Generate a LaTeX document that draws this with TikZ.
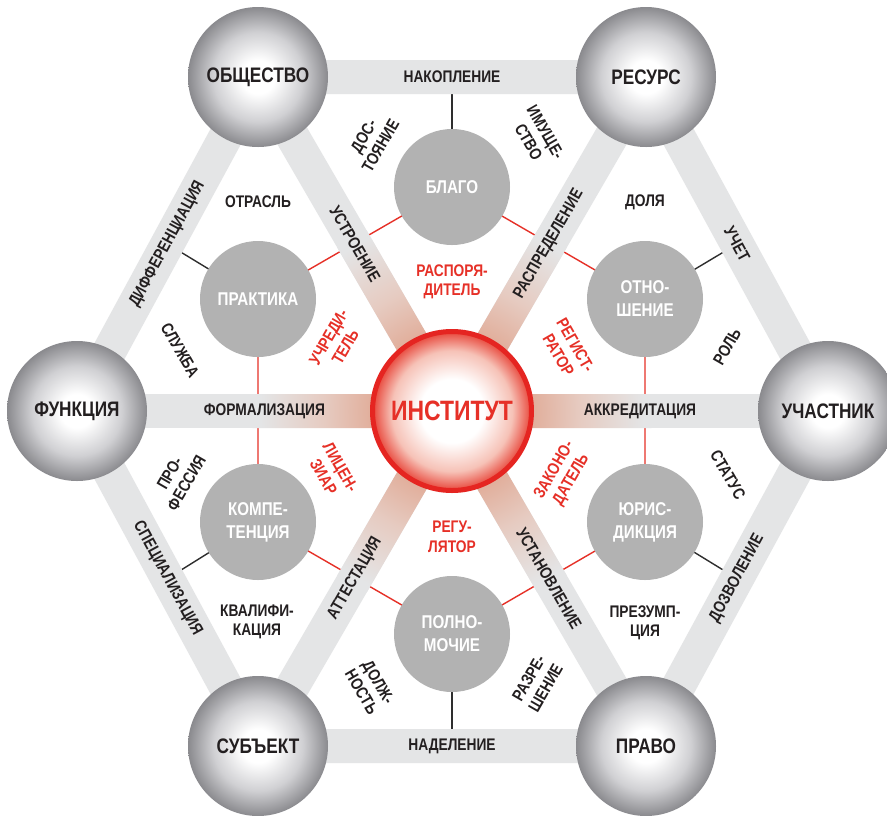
\documentclass[tikz,border=0pt]{standalone}
\usepackage{fontspec}
\setmainfont{Liberation Sans}[FakeStretch=0.82]
\usetikzlibrary{calc}
\definecolor{bandc}{HTML}{E4E5E6}
\definecolor{tintc}{HTML}{E1AE9B}
\definecolor{tintm}{HTML}{E6CBC1}
\definecolor{innc}{HTML}{B2B2B2}
\definecolor{redc}{HTML}{E63027}
\definecolor{txtc}{HTML}{231F20}
\definecolor{linec}{HTML}{2E2E2E}
\definecolor{sphedge}{HTML}{8A8A8E}
\definecolor{sphmid}{HTML}{D0D0D3}
\definecolor{instred}{HTML}{E8463A}
\definecolor{instpink}{HTML}{F6C2B7}
\definecolor{instrim}{HTML}{E52521}
\pgfdeclareradialshading{sphere}{\pgfpoint{0bp}{0bp}}{color(0bp)=(white); color(6bp)=(white); color(16bp)=(sphmid); color(25bp)=(sphedge); color(50bp)=(sphedge)}
\pgfdeclareradialshading{instsh}{\pgfpoint{0bp}{0bp}}{color(0bp)=(white); color(10bp)=(white); color(19bp)=(instpink); color(25bp)=(instred); color(50bp)=(instred)}
\pgfdeclareradialshading{spk}{\pgfpoint{0bp}{0bp}}{color(0bp)=(tintc); color(10bp)=(tintc); color(16bp)=(tintm); color(24bp)=(bandc); color(50bp)=(bandc)}
\begin{document}
\begin{tikzpicture}[x=1pt,y=-1pt,
  band/.style={line width=34pt, draw=bandc, line cap=butt, line join=miter},
  redln/.style={draw=redc, line width=1.4pt},
  blkln/.style={draw=linec, line width=1.4pt},
  sph/.style={circle, minimum size=140pt, inner sep=0pt, shade, shading=sphere, text=txtc,
    font=\fontsize{21}{23}\selectfont\bfseries},
  inn/.style={circle, minimum size=116pt, inner sep=0pt, fill=innc, text=white, align=center,
    font=\fontsize{18.5}{23}\selectfont\bfseries},
  inst/.style={circle, minimum size=159pt, inner sep=0pt, shade, shading=instsh, draw=instrim,
    line width=5pt, text=redc, font=\fontsize{28}{30}\selectfont\bfseries},
  blab/.style={inner sep=0pt, align=center, text=txtc, font=\fontsize{16.8}{19.5}\selectfont\bfseries},
  rlab/.style={blab, text=redc}]
\useasboundingbox[fill=white] (0,0) rectangle (887,815);
% centres
\coordinate (C) at (452,411);
\coordinate (O1) at (258,77);
\coordinate (O2) at (646,77);
\coordinate (O3) at (828,411);
\coordinate (O4) at (646,746);
\coordinate (O5) at (258,746);
\coordinate (O6) at (77,411);
\coordinate (I1) at (452,187);
\coordinate (I2) at (645,299);
\coordinate (I3) at (645,522);
\coordinate (I4) at (452,634);
\coordinate (I5) at (258,522);
\coordinate (I6) at (258,299);
\coordinate (E12) at ($(O1)!0.5!(O2)$);
\coordinate (E23) at ($(O2)!0.5!(O3)$);
\coordinate (E34) at ($(O3)!0.5!(O4)$);
\coordinate (E45) at ($(O4)!0.5!(O5)$);
\coordinate (E56) at ($(O5)!0.5!(O6)$);
\coordinate (E61) at ($(O6)!0.5!(O1)$);
% thin connectors (under bands and circles)
\draw[redln] (I1) -- (I2) -- (I3) -- (I4) -- (I5) -- (I6) -- cycle;
\draw[blkln] (I1) -- (E12);
\draw[blkln] (I2) -- (E23);
\draw[blkln] (I3) -- (E34);
\draw[blkln] (I4) -- (E45);
\draw[blkln] (I5) -- (E56);
\draw[blkln] (I6) -- (E61);
% bands
\draw[band] (O1) -- (O2) -- (O3) -- (O4) -- (O5) -- (O6) -- cycle;
\draw[band] (O1) -- (O4);
\draw[band] (O2) -- (O5);
\draw[band] (O3) -- (O6);
% tint of spokes near the centre
\begin{scope}
\clip ($(O1)!17pt!90:(O4)$) -- ($(O4)!17pt!-90:(O1)$) -- ($(O4)!17pt!90:(O1)$) -- ($(O1)!17pt!-90:(O4)$) -- cycle
      ($(O2)!17pt!90:(O5)$) -- ($(O5)!17pt!-90:(O2)$) -- ($(O5)!17pt!90:(O2)$) -- ($(O2)!17pt!-90:(O5)$) -- cycle
      ($(O3)!17pt!90:(O6)$) -- ($(O6)!17pt!-90:(O3)$) -- ($(O6)!17pt!90:(O3)$) -- ($(O3)!17pt!-90:(O6)$) -- cycle;
\shade[shading=spk] (C) circle (200);
\end{scope}
% inner circles
\node[inn] (nI1) at (I1) {БЛАГО};
\node[inn] (nI2) at (I2) {ОТНО-\\ШЕНИЕ};
\node[inn] (nI3) at (I3) {ЮРИС-\\ДИКЦИЯ};
\node[inn] (nI4) at (I4) {ПОЛНО-\\МОЧИЕ};
\node[inn] (nI5) at (I5) {КОМПЕ-\\ТЕНЦИЯ};
\node[inn] (nI6) at (I6) {ПРАКТИКА};
% outer spheres
\node[sph] (nO1) at (O1) {ОБЩЕСТВО};
\node[sph] (nO2) at (O2) {РЕСУРС};
\node[sph] (nO3) at (O3) {УЧАСТНИК};
\node[sph] (nO4) at (O4) {ПРАВО};
\node[sph] (nO5) at (O5) {СУБЪЕКТ};
\node[sph] (nO6) at (O6) {ФУНКЦИЯ};
% centre
\node[inst] (nC) at (C) {ИНСТИТУТ};
% band labels
\node[blab] (b12) at (E12) {НАКОПЛЕНИЕ};
\node[blab] (b45) at (E45) {НАДЕЛЕНИЕ};
\node[blab, rotate=61.5] (b61) at (E61) {ДИФФЕРЕНЦИАЦИЯ};
\node[blab, rotate=-61.5] (b56) at (E56) {СПЕЦИАЛИЗАЦИЯ};
\node[blab, rotate=-61.5] (b23) at (E23) {УЧЕТ};
\node[blab, rotate=61.5] (b34) at (E34) {ДОЗВОЛЕНИЕ};
\node[blab, rotate=-60] (s1) at ($(C)!0.5!(O1)$) {УСТРОЕНИЕ};
\node[blab, rotate=60] (s2) at ($(C)!0.5!(O2)$) {РАСПРЕДЕЛЕНИЕ};
\node[blab] (s3) at ($(C)!0.5!(O3)$) {АККРЕДИТАЦИЯ};
\node[blab, rotate=-60] (s4) at ($(C)!0.5!(O4)$) {УСТАНОВЛЕНИЕ};
\node[blab, rotate=60] (s5) at ($(C)!0.5!(O5)$) {АТТЕСТАЦИЯ};
\node[blab] (s6) at ($(C)!0.5!(O6)$) {ФОРМАЛИЗАЦИЯ};
% black region labels
\node[blab, rotate=60] (t1) at (372,141) {ДОС-\\ТОЯНИЕ};
\node[blab, rotate=-60] (t2) at (537,137) {ИМУЩЕ-\\СТВО};
\node[blab] (t3) at (258,202) {ОТРАСЛЬ};
\node[blab] (t4) at (645,202) {ДОЛЯ};
\node[blab, rotate=-60] (t5) at (180,350) {СЛУЖБА};
\node[blab, rotate=60] (t6) at (727,347) {РОЛЬ};
\node[blab, rotate=60] (t7) at (178,478) {ПРО-\\ФЕССИЯ};
\node[blab, rotate=-60] (t8) at (728,475) {СТАТУС};
\node[blab] (t9) at (257,622) {КВАЛИФИ-\\КАЦИЯ};
\node[blab] (t10) at (645,623) {ПРЕЗУМП-\\ЦИЯ};
\node[blab, rotate=-60] (t11) at (370,687) {ДОЛЖ-\\НОСТЬ};
\node[blab, rotate=60] (t12) at (537,683) {РАЗРЕ-\\ШЕНИЕ};
% red labels
\node[rlab] (r1) at (452,282) {РАСПОРЯ-\\ДИТЕЛЬ};
\node[rlab, rotate=60] (r2) at (337,342) {УЧРЕДИ-\\ТЕЛЬ};
\node[rlab, rotate=-60] (r3) at (567,350) {РЕГИСТ-\\РАТОР};
\node[rlab, rotate=-60] (r4) at (332,472) {ЛИЦЕН-\\ЗИАР};
\node[rlab, rotate=60] (r5) at (563,475) {ЗАКОНО-\\ДАТЕЛЬ};
\node[rlab] (r6) at (452,537) {РЕГУ-\\ЛЯТОР};
\end{tikzpicture}
\end{document}
